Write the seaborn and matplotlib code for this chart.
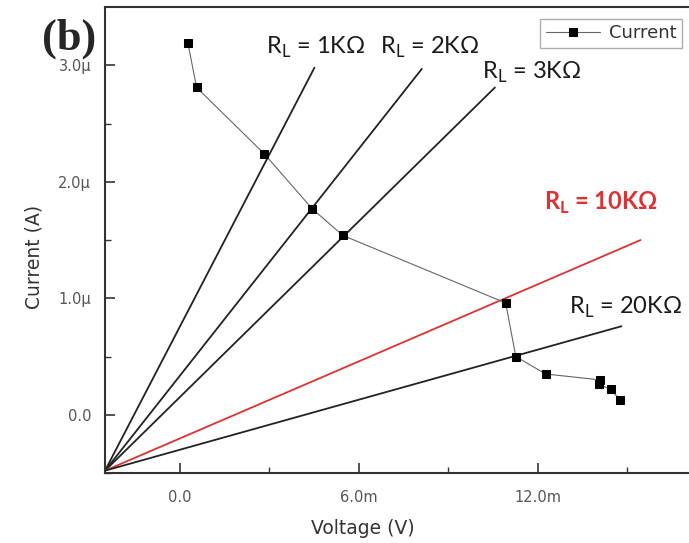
import matplotlib
matplotlib.use("Agg")
import matplotlib.pyplot as plt
from matplotlib.ticker import FixedLocator, FuncFormatter
import seaborn as sns
import pandas as pd

# Measured I-V points (voltage in mV, current in uA)
voltage_mv = [0.28, 0.57, 2.84, 4.44, 5.47, 10.93, 11.27, 12.27, 14.08, 14.05, 14.45, 14.75]
current_ua = [3.19, 2.81, 2.24, 1.77, 1.54, 0.96, 0.50, 0.35, 0.30, 0.26, 0.22, 0.13]

# Load lines: common origin and end points
load_labels = ["1K", "2K", "3K", "10K", "20K"]
load_start = (-2.5, -0.48)
load_end_v = [4.52, 8.12, 10.57, 15.45, 14.81]
load_end_i = [2.98, 2.97, 2.81, 1.50, 0.76]
load_colors = ["#222222", "#222222", "#222222", "#dc3232", "#222222"]

# Annotation positions for the load-line labels
label_x = [2.9, 6.72, 10.12, 12.2, 13.05]
label_y = [3.15, 3.15, 2.94, 1.82, 0.92]

x_ticks = [0.0, 6.0, 12.0]
y_ticks = [0.0, 1.0, 2.0, 3.0]

sns.set_style("white")
plt.rcParams["mathtext.fontset"] = "custom"
plt.rcParams["mathtext.rm"] = "Lato"

fig = plt.figure(figsize=(6.89, 5.43), dpi=100)
ax = fig.add_axes([0.1524, 0.1289, 0.866, 0.858])

df = pd.DataFrame({"Voltage": voltage_mv, "Current": current_ua})

for name, xe, ye, col in zip(load_labels, load_end_v, load_end_i, load_colors):
    seg = pd.DataFrame({"v": [load_start[0], xe], "i": [load_start[1], ye]})
    sns.lineplot(data=seg, x="v", y="i", ax=ax, color=col, lw=1.3,
                 sort=False, legend=False, estimator=None)

sns.lineplot(data=df, x="Voltage", y="Current", ax=ax, sort=False, estimator=None,
             color="#666666", lw=0.8, marker="s", markersize=6,
             markerfacecolor="black", markeredgecolor="black", label="Current")

for name, lx, ly, col in zip(load_labels, label_x, label_y, load_colors):
    bold = name == "10K"
    ax.text(lx, ly, r"R$_\mathregular{L}$ = " + name + "Ω", fontsize=17,
            family="Lato", color=col if bold else "#1a1a1a",
            fontweight="bold" if bold else "normal", va="center", ha="left")

ax.set_xlim(-2.5, 17.5)
ax.set_ylim(-0.5, 3.5)

ax.xaxis.set_major_locator(FixedLocator(x_ticks))
ax.xaxis.set_minor_locator(FixedLocator([3.0, 9.0, 15.0]))
ax.yaxis.set_major_locator(FixedLocator(y_ticks))
ax.yaxis.set_minor_locator(FixedLocator([-0.5, 0.5, 1.5, 2.5]))
ax.xaxis.set_major_formatter(FuncFormatter(lambda v, p: "0.0" if v == 0 else f"{v:.1f}m"))
ax.yaxis.set_major_formatter(FuncFormatter(lambda v, p: "0.0" if v == 0 else f"{v:.1f}µ"))

ax.tick_params(which="major", direction="in", length=7, width=1.2, color="#333333",
               labelsize=10.5, labelcolor="#555555")
ax.tick_params(axis="x", which="major", pad=12)
ax.tick_params(axis="y", which="major", pad=10)
ax.tick_params(which="minor", direction="in", length=4, width=1.0, color="#333333")
ax.tick_params(axis="x", which="both", bottom=True, top=False)
ax.tick_params(axis="y", which="both", left=True, right=False)

for s in ax.spines.values():
    s.set_color("#333333")
    s.set_linewidth(1.5)

ax.set_xlabel("Voltage (V)", fontsize=13.5, color="#333333")
ax.set_ylabel("Current (A)", fontsize=13.5, color="#333333")
ax.xaxis.set_label_coords((363 - 105) / 597, -(519 - 473) / 466)
ax.yaxis.set_label_coords(-(105 - 43) / 597, (473 - 257) / 466)

leg = ax.legend(loc="upper right", bbox_to_anchor=(682 / 689, 1 - 19 / 543),
                bbox_transform=fig.transFigure, fontsize=13,
                frameon=True, fancybox=False, edgecolor="#999999",
                handlelength=3.0, borderpad=0.3, handletextpad=0.5,
                borderaxespad=0.0)
leg.get_frame().set_linewidth(1.0)
for t in leg.get_texts():
    t.set_color("#333333")

fig.text(42 / 689, 1 - 39 / 543, "(b)", fontsize=32, fontweight="bold",
         family="Liberation Serif", va="center", ha="left")

fig.savefig("out.png", dpi=100)
